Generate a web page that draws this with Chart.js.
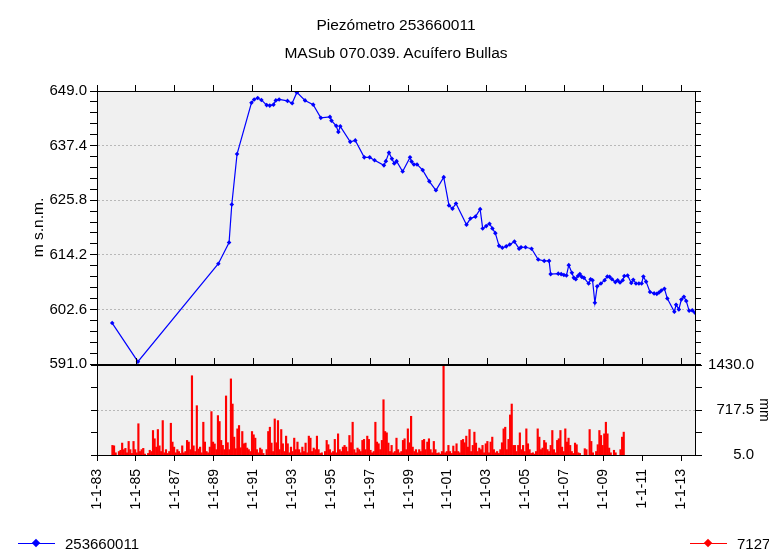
<!DOCTYPE html>
<html>
<head>
<meta charset="utf-8">
<script src="https://cdn.jsdelivr.net/npm/chart.js@4.4.1/dist/chart.umd.min.js"></script>
<style>
  body { margin: 0; background: #fff; }
  #wrap { position: relative; width: 769px; height: 552px; overflow: hidden;
          font-family: "Liberation Sans", Arial, sans-serif; color: #000; }
  canvas { position: absolute; left: 0; }
  #top { top: 0; }
  #bottom { top: 350px; }
  .ttl { position: absolute; left: 97px; width: 598px; text-align: center; font-size: 15.5px;
         line-height: 18px; white-space: nowrap; }
  .leg { position: absolute; top: 535px; height: 16px; display: flex; align-items: center; font-size: 15px; }
  .leg .ln { position: relative; width: 37px; height: 1px; margin-right: 10px; }
  .leg .ln::after { content: ""; position: absolute; left: 15px; top: -3px; width: 6px; height: 6px;
                    background: inherit; transform: rotate(45deg); }
</style>
</head>
<body>
<div id="wrap">
  <canvas id="top" width="769" height="380"></canvas>
  <canvas id="bottom" width="769" height="190"></canvas>
  <div class="ttl" style="top:16px">Piezómetro 253660011</div>
  <div class="ttl" style="top:44px">MASub 070.039. Acuífero Bullas</div>
  <div class="leg" style="left:18px"><span class="ln" style="background:#0000ff"></span>253660011</div>
  <div class="leg" style="left:690px"><span class="ln" style="background:#ff0000"></span>7127</div>
</div>
<script>
// DATA

// piezometer level (m s.n.m.), dates as decimal years
const levelDates = [
  1983.78, 1985.10, 1989.23, 1989.78, 1989.92, 1990.19, 1990.93, 1991.07, 1991.25, 1991.44,
  1991.71, 1991.87, 1992.06, 1992.18, 1992.35, 1992.78, 1993.02, 1993.26, 1993.68, 1994.10,
  1994.49, 1994.96, 1995.04, 1995.28, 1995.39, 1995.49, 1996.00, 1996.26, 1996.72, 1997.00,
  1997.25, 1997.73, 1997.83, 1997.99, 1998.14, 1998.26, 1998.38, 1998.69, 1999.07, 1999.15,
  1999.27, 1999.43, 1999.72, 2000.06, 2000.40, 2000.80, 2001.07, 2001.25, 2001.43, 2001.97,
  2002.17, 2002.43, 2002.67, 2002.80, 2002.98, 2003.15, 2003.30, 2003.45, 2003.64, 2003.81,
  2004.01, 2004.19, 2004.43, 2004.67, 2004.77, 2005.00, 2005.31, 2005.65, 2005.96, 2006.21,
  2006.29, 2006.68, 2006.83, 2006.97, 2007.10, 2007.22, 2007.38, 2007.48, 2007.58, 2007.69,
  2007.79, 2007.89, 2008.00, 2008.24, 2008.34, 2008.44, 2008.56, 2008.68, 2008.87, 2009.06,
  2009.20, 2009.32, 2009.44, 2009.61, 2009.73, 2009.85, 2009.99, 2010.07, 2010.24, 2010.43,
  2010.53, 2010.67, 2010.82, 2010.96, 2011.05, 2011.19, 2011.39, 2011.60, 2011.74, 2011.85,
  2011.97, 2012.13, 2012.28, 2012.64, 2012.73, 2012.87, 2013.00, 2013.13, 2013.25, 2013.40,
  2013.56, 2013.70
];
const levelValues = [
  599.7, 591.5, 612.3, 616.8, 624.9, 635.6, 646.5, 647.2, 647.5, 647.1,
  646.0, 645.9, 646.1, 647.0, 647.2, 646.9, 646.4, 648.7, 647.0, 646.1,
  643.3, 643.5, 642.7, 641.6, 640.3, 641.5, 638.2, 638.5, 634.9, 634.9,
  634.3, 633.2, 634.1, 635.9, 634.6, 633.6, 634.1, 631.9, 634.9, 634.0,
  633.4, 633.4, 632.2, 629.8, 627.9, 630.7, 624.7, 624.0, 625.1, 620.6,
  621.9, 622.3, 623.9, 619.8, 620.3, 620.8, 619.8, 618.8, 616.1, 615.7,
  616.0, 616.4, 617.0, 615.5, 615.8, 615.8, 615.5, 613.2, 612.9, 612.9,
  610.1, 610.2, 610.1, 609.9, 609.8, 612.0, 610.4, 609.3, 609.0, 609.7,
  610.1, 609.5, 609.3, 608.1, 609.0, 608.8, 604.0, 607.5, 608.1, 608.8,
  609.6, 609.5, 609.0, 608.4, 608.8, 608.3, 608.8, 609.7, 609.8, 608.2,
  608.9, 608.1, 608.1, 608.1, 609.6, 608.5, 606.3, 606.0, 605.9, 606.2,
  606.6, 607.0, 604.9, 602.1, 603.6, 602.6, 604.7, 605.3, 604.4, 602.3,
  602.4, 601.9
];

// monthly rainfall at station 7127 (mm), first month = Oct 1983
const rainStart = 1983.75;
const rainValues = [
  157, 150, 40, 0, 60, 80, 194, 90, 110, 40, 220, 90, 30, 220, 90, 40, 500, 60, 90, 110,
  20, 0, 30, 80, 60, 393, 262, 130, 408, 150, 60, 550, 40, 90, 30, 60, 508, 210, 130, 40,
  90, 60, 30, 150, 40, 60, 236, 210, 90, 1260, 150, 60, 786, 100, 130, 40, 524, 210, 60, 40,
  130, 692, 210, 180, 90, 629, 535, 236, 157, 90, 940, 200, 90, 1210, 812, 288, 105, 419, 472, 120,
  377, 183, 194, 115, 90, 60, 377, 325, 272, 90, 40, 115, 90, 30, 0, 90, 377, 445, 194, 60,
  576, 199, 550, 90, 408, 183, 60, 304, 183, 40, 130, 60, 272, 90, 210, 90, 40, 130, 60, 194,
  40, 304, 272, 60, 115, 90, 304, 90, 30, 40, 0, 60, 236, 168, 90, 40, 60, 252, 40, 340,
  90, 60, 130, 157, 130, 60, 314, 200, 524, 90, 40, 115, 90, 60, 236, 252, 90, 304, 252, 80,
  40, 60, 524, 210, 183, 90, 236, 880, 377, 356, 194, 60, 157, 40, 60, 272, 90, 40, 60, 236,
  262, 90, 419, 199, 618, 130, 60, 90, 40, 90, 60, 236, 252, 90, 210, 262, 90, 40, 220, 90,
  30, 40, 20, 60, 1425, 40, 60, 157, 60, 30, 147, 60, 183, 60, 40, 236, 252, 199, 304, 130,
  408, 60, 157, 367, 194, 60, 115, 90, 157, 40, 183, 220, 40, 210, 288, 90, 40, 60, 30, 90,
  199, 419, 445, 90, 252, 639, 812, 157, 157, 60, 157, 356, 90, 157, 60, 419, 183, 90, 30, 40,
  20, 60, 419, 288, 90, 115, 236, 199, 90, 60, 157, 393, 90, 40, 236, 262, 393, 130, 60, 419,
  210, 272, 157, 60, 30, 194, 168, 40, 30, 0, 0, 105, 90, 0, 408, 220, 40, 0, 60, 168,
  393, 314, 157, 340, 524, 340, 115, 40, 0, 80, 40, 0, 0, 90, 288, 367
];

// x axis ticks (1 January of these years)
const tickYears = [1983, 1985, 1987, 1989, 1991, 1993, 1995, 1997, 1999, 2001, 2003, 2005, 2007, 2009, 2011, 2013];
const xMin = 1983, xMax = 2013.7;

const levelMin = 591.0, levelMax = 649.0, levelStep = 2.32;
const rainMin = 5.0, rainMax = 1430.0, rainStep = 356.25;

// CHART SETUP

const FONT = '"Liberation Sans", Arial, sans-serif';
const LEFT_W = 97;
const RIGHT_W = 74;

const levelPoints = levelDates.map((d, i) => ({ x: d, y: levelValues[i] }));
const rainPoints = rainValues.map((v, i) => ({ x: rainStart + (i + 0.5) / 12, y: v }));

const setYearTicks = scale => { scale.ticks = tickYears.map(v => ({ value: v })); };

// grey plot background + black frame
const framePlugin = {
    id: "frame",
    beforeDraw(chart) {
        const a = chart.chartArea, ctx = chart.ctx;
        ctx.save();
        ctx.fillStyle = "#f0f0f0";
        ctx.fillRect(a.left, a.top, a.right - a.left, a.bottom - a.top);
        ctx.restore();
    },
    afterDraw(chart, args, opts) {
        const a = chart.chartArea, ctx = chart.ctx;
        ctx.save();
        ctx.strokeStyle = "#000";
        ctx.lineWidth = 1;
        ctx.strokeRect(Math.round(a.left) + 0.5, Math.round(a.top) + 0.5,
                       Math.round(a.right - a.left), Math.round(a.bottom - a.top));
        // little inward ticks on the lower edge of the top panel
        if (opts.innerTicks) {
            const xs = chart.scales.x;
            ctx.beginPath();
            tickYears.forEach(v => {
                const px = Math.round(xs.getPixelForValue(v)) + 0.5;
                ctx.moveTo(px, a.bottom);
                ctx.lineTo(px, a.bottom - 6);
            });
            ctx.stroke();
        }
        ctx.restore();
    }
};

// TOP CHART: piezometer level

new Chart(document.getElementById("top"), {
    type: "line",
    data: {
        datasets: [{
            label: "253660011",
            data: levelPoints,
            borderColor: "#0000ff",
            backgroundColor: "#0000ff",
            borderWidth: 1.2,
            pointStyle: "rectRot",
            pointRadius: 2.3,
            pointBorderWidth: 0,
            tension: 0
        }]
    },
    options: {
        responsive: false,
        animation: false,
        layout: { padding: { left: 0, right: 0, top: 85, bottom: 16 } },
        plugins: {
            legend: { display: false },
            tooltip: { enabled: false },
            frame: { innerTicks: true }
        },
        scales: {
            x: {
                type: "linear",
                position: "top",
                min: xMin,
                max: xMax,
                afterBuildTicks: setYearTicks,
                afterFit: s => { s.height = 6; },
                ticks: { display: false },
                grid: { drawOnChartArea: false, tickLength: 6, tickColor: "#000" },
                border: { color: "#000" }
            },
            y: {
                position: "left",
                min: levelMin,
                max: levelMax,
                afterFit: s => { s.width = LEFT_W; },
                ticks: {
                    stepSize: levelStep,
                    autoSkip: false,
                    padding: 3,
                    color: "#000",
                    font: { family: FONT, size: 15 },
                    callback: (v, i) => (i % 5 === 0 ? v.toFixed(1) : "")
                },
                title: {
                    display: true,
                    text: "m s.n.m.",
                    color: "#000",
                    font: { family: FONT, size: 15.5 },
                    padding: { top: 29, bottom: 0 }
                },
                grid: {
                    color: c => (c.index % 5 === 0 && c.index > 0 && c.index < 25 ? "#b8b8b8" : "transparent"),
                    tickColor: "#000",
                    tickLength: 7
                },
                border: { color: "#000", dash: [2, 2] }
            },
            yr: {
                position: "right",
                min: levelMin,
                max: levelMax,
                afterFit: s => { s.width = RIGHT_W; },
                ticks: { stepSize: levelStep, autoSkip: false, callback: () => "" },
                grid: { drawOnChartArea: false, tickColor: "#000", tickLength: 6 },
                border: { color: "#000" }
            }
        }
    },
    plugins: [framePlugin]
});

// BOTTOM CHART: rainfall

new Chart(document.getElementById("bottom"), {
    type: "bar",
    data: {
        datasets: [{
            label: "7127",
            data: rainPoints,
            yAxisID: "y",
            backgroundColor: "#ff0000",
            barThickness: 1.5
        }]
    },
    options: {
        responsive: false,
        animation: false,
        layout: { padding: { left: 0, right: 15, top: 14, bottom: 0 } },
        plugins: {
            legend: { display: false },
            tooltip: { enabled: false },
            frame: { innerTicks: false }
        },
        scales: {
            x: {
                type: "linear",
                position: "bottom",
                offset: false,
                min: xMin,
                max: xMax,
                afterBuildTicks: setYearTicks,
                afterFit: s => { s.height = 85; },
                ticks: {
                    autoSkip: false,
                    minRotation: 90,
                    maxRotation: 90,
                    padding: 8,
                    color: "#000",
                    font: { family: FONT, size: 14 },
                    callback: v => "1-1-" + String(v % 100).padStart(2, "0")
                },
                grid: { offset: false, drawOnChartArea: false, tickLength: 6, tickColor: "#000" },
                border: { color: "#000" }
            },
            yl: {
                position: "left",
                min: rainMin,
                max: rainMax,
                afterFit: s => { s.width = LEFT_W; },
                ticks: { stepSize: rainStep, autoSkip: false, callback: () => "" },
                grid: { drawOnChartArea: false, tickColor: "#000", tickLength: 6 },
                border: { color: "#000" }
            },
            y: {
                position: "right",
                min: rainMin,
                max: rainMax,
                afterFit: s => { s.width = RIGHT_W - 15; },
                ticks: {
                    stepSize: rainStep,
                    autoSkip: false,
                    padding: 6,
                    crossAlign: "far",
                    color: "#000",
                    font: { family: FONT, size: 15 },
                    callback: (v, i) => (i % 2 === 0 ? v.toFixed(1) : "")
                },
                title: {
                    display: true,
                    text: "mm",
                    color: "#000",
                    font: { family: FONT, size: 14, lineHeight: 1 },
                    padding: { top: -17, bottom: 0 }
                },
                grid: {
                    color: c => (c.index === 2 ? "#b8b8b8" : "transparent"),
                    tickColor: "#000",
                    tickLength: 7
                },
                border: { color: "#000", dash: [2, 2] }
            }
        }
    },
    plugins: [framePlugin]
});
</script>
</body>
</html>
